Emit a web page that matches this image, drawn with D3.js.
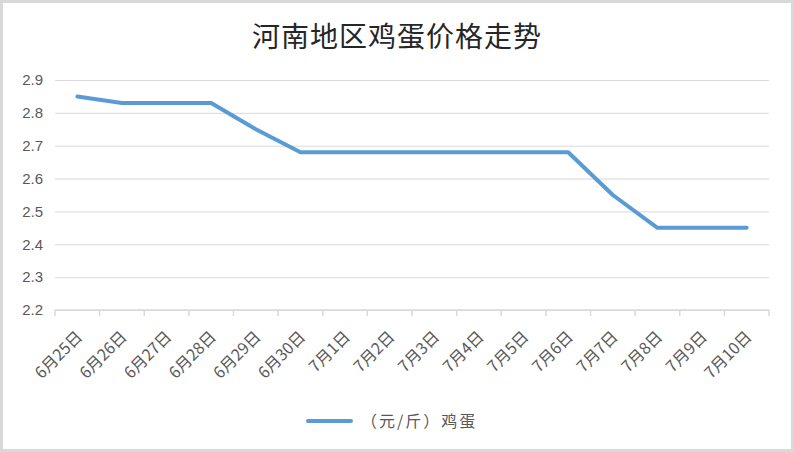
<!DOCTYPE html>
<html><head><meta charset="utf-8">
<script src="https://cdn.jsdelivr.net/npm/d3@7"></script>
<style>
html,body{margin:0;padding:0;background:#fff;}
svg{display:block;}
</style></head>
<body>
<svg id="c" width="794" height="452"></svg>
<script>
const categories = ["6月25日","6月26日","6月27日","6月28日","6月29日","6月30日","7月1日","7月2日","7月3日","7月4日","7月5日","7月6日","7月7日","7月8日","7月9日","7月10日"];
const values = [2.85,2.83,2.83,2.83,2.75,2.68,2.68,2.68,2.68,2.68,2.68,2.68,2.55,2.45,2.45,2.45];
const yTicks = [2.2,2.3,2.4,2.5,2.6,2.7,2.8,2.9];
const title = "河南地区鸡蛋价格走势";
const seriesName = "（元/斤）鸡蛋";

const svg = d3.select("#c");
const W = 794, H = 452;
svg.append("rect").attr("x",1.5).attr("y",1.5).attr("width",W-3).attr("height",H-3)
  .attr("fill","#fff").attr("stroke","#d9d9d9").attr("stroke-width",3);

const m = {l:55, r:769, t:80, b:310};
const x = d3.scaleBand().domain(categories).range([m.l, m.r]).padding(0);
const y = d3.scaleLinear().domain([2.2,2.9]).range([m.b, m.t]);

const font = "'Noto Sans CJK SC','Noto Sans',sans-serif";

svg.append("text").attr("x",397).attr("y",47).attr("text-anchor","middle")
  .attr("font-family","'Noto Sans CJK SC',serif").attr("font-size",28).attr("fill","#262626")
  .attr("letter-spacing",1).text(title);

// grid
const yAxis = d3.axisLeft(y).tickValues(yTicks).tickSize(-(m.r-m.l)).tickFormat(d3.format(".1f"));
const gy = svg.append("g").attr("transform",`translate(${m.l},0)`).call(yAxis);
gy.select(".domain").remove();
gy.selectAll(".tick line").attr("stroke","#d9d9d9").attr("stroke-width",1);
gy.selectAll(".tick text").attr("x",-12).attr("fill","#595959")
  .attr("font-family","'Liberation Sans',Arial,sans-serif").attr("font-size",15);

// x axis
const bounds = categories.map(c=>x(c)).concat([m.r]);
const gx = svg.append("g");
gx.append("line").attr("x1",m.l).attr("x2",m.r).attr("y1",m.b).attr("y2",m.b)
  .attr("stroke","#d9d9d9").attr("stroke-width",1.5);
gx.selectAll("line.tk").data(bounds).join("line").attr("class","tk")
  .attr("x1",d=>d).attr("x2",d=>d).attr("y1",m.b).attr("y2",m.b+6)
  .attr("stroke","#d9d9d9").attr("stroke-width",1.5);
gx.selectAll("text").data(categories).join("text")
  .attr("transform",d=>`translate(${x(d)+x.bandwidth()/2+6},${m.b+28}) rotate(-45)`)
  .attr("text-anchor","end").attr("fill","#595959")
  .attr("font-family",font).attr("font-size",16).text(d=>d);

// line
const line = d3.line().x((d,i)=>x(categories[i])+x.bandwidth()/2).y(d=>y(d));
svg.append("path").datum(values).attr("d",line).attr("fill","none")
  .attr("stroke","#5b9bd5").attr("stroke-width",4).attr("stroke-linejoin","round").attr("stroke-linecap","round");

// legend
svg.append("line").attr("x1",308).attr("x2",351).attr("y1",421).attr("y2",421)
  .attr("stroke","#5b9bd5").attr("stroke-width",4).attr("stroke-linecap","round");
svg.append("text").attr("x",361).attr("y",427).attr("fill","#595959")
  .attr("font-family",font).attr("font-size",16).attr("letter-spacing",2).text(seriesName);
</script>
</body></html>
